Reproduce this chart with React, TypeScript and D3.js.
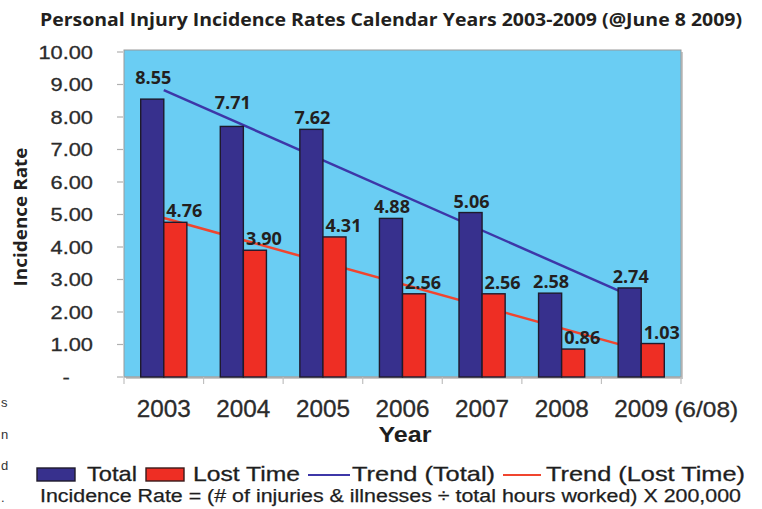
import React from "react";
import * as d3 from "d3";

const years = ["2003", "2004", "2005", "2006", "2007", "2008", "2009"];
const lastYearNote = "(6/08)";
const totalRates = [8.55, 7.71, 7.62, 4.88, 5.06, 2.58, 2.74];
const lostTimeRates = [4.76, 3.9, 4.31, 2.56, 2.56, 0.86, 1.03];
// linear trend lines, values read at first and last year
const trendTotal = [8.83, 2.35];
const trendLostTime = [4.89, 0.82];
const yTicks = [0, 1, 2, 3, 4, 5, 6, 7, 8, 9, 10];
const yTickLabels = ["-", "1.00", "2.00", "3.00", "4.00", "5.00", "6.00", "7.00", "8.00", "9.00", "10.00"];
const seriesNames = ["Total", "Lost Time"];
const title = "Personal Injury Incidence Rates Calendar Years 2003-2009 (@June 8 2009)";
const yTitle = "Incidence Rate";
const xTitle = "Year";
const footnote = "Incidence Rate = (# of injuries & illnesses \u00f7 total hours worked) X 200,000";
const legendLabels = ["Total", "Lost Time", "Trend (Total)", "Trend (Lost Time)"];
const edgeFragments = ["s", "n", "d", "."];

const W = 762;
const H = 509;
const plot = { left: 124, right: 681, top: 50, bottom: 377 };

const BLUE = "#37308d";
const RED = "#ee2e24";
const TREND_BLUE = "#3d37a8";
const TREND_RED = "#f0452f";
const PLOT_BG = "#6acdf3";
const HEAD_FONT = "'Open Sans', 'Noto Sans', sans-serif";
const AXIS_FONT = "'Liberation Sans', Arial, Helvetica, sans-serif";

export default function App() {
  const x = d3
    .scaleBand<string>()
    .domain(years)
    .range([plot.left, plot.right])
    .paddingInner(0.42)
    .paddingOuter(0.21);
  const xs = d3.scaleBand<string>().domain(seriesNames).range([0, x.bandwidth()]);
  const y = d3.scaleLinear().domain([0, 10]).range([plot.bottom, 52]);
  const step = x.step();

  const seriesData = [totalRates, lostTimeRates];
  const seriesColor = [BLUE, RED];
  const labelDx = [1, 9];
  const labelLift: Record<string, number> = { "Total-2003": 10, "Total-2004": 12 };

  const groupCenter = (yr: string) => (x(yr) as number) + x.bandwidth() / 2;
  const line = d3
    .line<[number, number]>()
    .x((d) => d[0])
    .y((d) => y(d[1]));
  const firstC = groupCenter(years[0]);
  const lastC = groupCenter(years[years.length - 1]);

  const legendX = [37, 146, 308, 503];
  const legendTextX = [87, 193, 352, 546];
  const legendTextW = [50, 107, 143, 199];

  return (
    <svg
      width={W}
      height={H}
      viewBox={`0 0 ${W} ${H}`}
      style={{ position: "absolute", left: 0, top: 0, background: "#fff" }}
    >
      {/* title */}
      <text
        x={40}
        y={26}
        fontFamily={HEAD_FONT}
        fontWeight={700}
        fontSize={18}
        fill="#231f20"
        textLength={702}
        lengthAdjust="spacingAndGlyphs"
      >
        {title}
      </text>

      {/* plot area */}
      <rect x={plot.left + 2} y={plot.top + 2} width={plot.right - plot.left} height={plot.bottom - plot.top} fill="#c8c8c8" />
      <rect
        x={plot.left}
        y={plot.top}
        width={plot.right - plot.left}
        height={plot.bottom - plot.top}
        fill={PLOT_BG}
        stroke="#9a9a9a"
        strokeWidth={1}
      />

      {/* y ticks and labels */}
      {yTicks.map((t, i) => (
        <g key={t}>
          <line x1={plot.left - 7} x2={plot.left - 1} y1={y(t)} y2={y(t)} stroke="#b0b0b0" strokeWidth={1.2} />
          <text
            transform={`translate(${i === 0 ? 66 : 93},${y(t)}) scale(1.18,1)`}
            textAnchor={i === 0 ? "middle" : "end"}
            dy="0.36em"
            fontFamily={AXIS_FONT}
            fontSize={18.5}
            fill="#2b2b2b"
            stroke="#2b2b2b"
            strokeWidth={0.3}
          >
            {yTickLabels[i]}
          </text>
        </g>
      ))}

      {/* x axis ticks */}
      <line x1={plot.left} x2={plot.right} y1={plot.bottom} y2={plot.bottom} stroke="#a8a8a8" strokeWidth={1} />
      {d3.range(years.length + 1).map((i) => (
        <line
          key={i}
          x1={plot.left + i * step}
          x2={plot.left + i * step}
          y1={plot.bottom}
          y2={plot.bottom + 7}
          stroke="#c0c0c0"
          strokeWidth={1.2}
        />
      ))}

      {/* trend lines (behind bars) */}
      <path
        d={line([
          [firstC, trendTotal[0]],
          [lastC, trendTotal[1]],
        ]) as string}
        stroke={TREND_BLUE}
        strokeWidth={2.5}
        fill="none"
      />
      <path
        d={line([
          [firstC, trendLostTime[0]],
          [lastC, trendLostTime[1]],
        ]) as string}
        stroke={TREND_RED}
        strokeWidth={2.5}
        fill="none"
      />

      {/* bars */}
      {seriesNames.map((s, si) =>
        years.map((yr, i) => {
          const v = seriesData[si][i];
          const bx = (x(yr) as number) + (xs(s) as number);
          return (
            <rect
              key={s + yr}
              x={bx}
              y={y(v)}
              width={xs.bandwidth()}
              height={plot.bottom - y(v)}
              fill={seriesColor[si]}
              stroke="#1e1a2c"
              strokeWidth={1.4}
            />
          );
        })
      )}

      {/* value labels */}
      {seriesNames.map((s, si) =>
        years.map((yr, i) => {
          const v = seriesData[si][i];
          const cx = (x(yr) as number) + (xs(s) as number) + xs.bandwidth() / 2 + labelDx[si];
          const lift = labelLift[`${s}-${yr}`] || 0;
          return (
            <text
              key={"l" + s + yr}
              x={cx}
              y={y(v) - 5 - lift}
              textAnchor="middle"
              fontFamily={HEAD_FONT}
              fontWeight={700}
              fontSize={18}
              fill="#231f20"
              textLength={36}
              lengthAdjust="spacingAndGlyphs"
            >
              {v.toFixed(2)}
            </text>
          );
        })
      )}

      {/* x labels */}
      {years.map((yr, i) => {
        const c = groupCenter(yr);
        return (
          <g key={"x" + yr}>
            <text
              x={c}
              y={417}
              textAnchor="middle"
              fontFamily={AXIS_FONT}
              fontSize={23}
              fill="#2b2b2b"
              stroke="#2b2b2b"
              strokeWidth={0.3}
              textLength={54}
              lengthAdjust="spacingAndGlyphs"
            >
              {yr}
            </text>
            {i === years.length - 1 && (
              <text
                x={c + 33}
                y={417}
                fontFamily={AXIS_FONT}
                fontSize={22}
                fill="#2b2b2b"
                stroke="#2b2b2b"
                strokeWidth={0.3}
                textLength={64}
                lengthAdjust="spacingAndGlyphs"
              >
                {lastYearNote}
              </text>
            )}
          </g>
        );
      })}

      {/* axis titles */}
      <text
        x={405}
        y={442}
        textAnchor="middle"
        fontFamily={AXIS_FONT}
        fontWeight={700}
        fontSize={22}
        fill="#1e1e1e"
        textLength={53}
        lengthAdjust="spacingAndGlyphs"
      >
        {xTitle}
      </text>
      <text
        transform={`translate(27,217) rotate(-90)`}
        textAnchor="middle"
        fontFamily={HEAD_FONT}
        fontWeight={700}
        fontSize={18}
        fill="#231f20"
        textLength={139}
        lengthAdjust="spacingAndGlyphs"
      >
        {yTitle}
      </text>

      {/* legend */}
      <rect x={legendX[0]} y={468} width={38} height={13} fill={BLUE} stroke="#1e1a2c" strokeWidth={1.4} />
      <rect x={legendX[1]} y={468} width={38} height={13} fill={RED} stroke="#3a1a1a" strokeWidth={1.4} />
      <line x1={legendX[2]} x2={legendX[2] + 42} y1={475} y2={475} stroke={TREND_BLUE} strokeWidth={2.2} />
      <line x1={legendX[3]} x2={legendX[3] + 38} y1={475} y2={475} stroke={TREND_RED} strokeWidth={2.2} />
      {legendLabels.map((l, i) => (
        <text
          key={l}
          x={legendTextX[i]}
          y={481}
          fontFamily={AXIS_FONT}
          fontSize={21}
          fill="#1e1e1e"
          stroke="#1e1e1e"
          strokeWidth={0.3}
          textLength={legendTextW[i]}
          lengthAdjust="spacingAndGlyphs"
        >
          {l}
        </text>
      ))}

      {/* footnote */}
      <text
        x={40}
        y={502}
        fontFamily={AXIS_FONT}
        fontSize={18}
        fill="#1e1e1e"
        stroke="#1e1e1e"
        strokeWidth={0.25}
        textLength={701}
        lengthAdjust="spacingAndGlyphs"
      >
        {footnote}
      </text>

      {/* fragments of neighbouring page text at the left edge */}
      {edgeFragments.map((f, i) => (
        <text key={"f" + i} x={1} y={407 + i * 31.5} fontFamily={AXIS_FONT} fontSize={13} fill="#333">
          {f}
        </text>
      ))}
    </svg>
  );
}
